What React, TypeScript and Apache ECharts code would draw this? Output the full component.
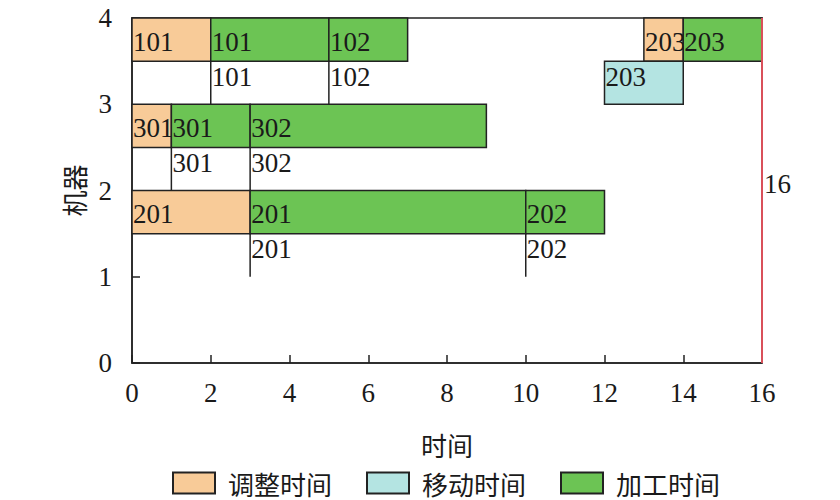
import React, { useEffect, useRef } from "react";
import * as echarts from "echarts";

// [machine, start, end, job]
const setupTasks: [number, number, number, string][] = [
  [4, 0, 2, "101"],
  [4, 13, 14, "203"],
  [3, 0, 1, "301"],
  [2, 0, 3, "201"],
];
const moveTasks: [number, number, number, string][] = [[4, 12, 14, "203"]];
const processTasks: [number, number, number, string][] = [
  [4, 2, 5, "101"],
  [4, 5, 7, "102"],
  [4, 14, 16, "203"],
  [3, 1, 3, "301"],
  [3, 3, 9, "302"],
  [2, 3, 10, "201"],
  [2, 10, 12, "202"],
];
// [machine, time, job]
const markers: [number, number, string][] = [
  [4, 2, "101"],
  [4, 5, "102"],
  [3, 1, "301"],
  [3, 3, "302"],
  [2, 3, "201"],
  [2, 10, "202"],
];
const makespan = 16;
const xTicks = [0, 2, 4, 6, 8, 10, 12, 14, 16];
const yTicks = [0, 1, 2, 3, 4];

const SERIF = "serif";
const CJK = "Noto Sans CJK SC";
const INK = "#1a1a1a";
const COLORS = { setup: "#F8CB98", move: "#B4E4E2", process: "#6CC454" };

function barSeries(name: string, tasks: [number, number, number, string][], color: string, lower: boolean) {
  return {
    type: "custom",
    name,
    clip: false,
    itemStyle: { color, borderColor: "#222", borderWidth: 1.5 },
    encode: { x: [1, 2], y: 0 },
    data: tasks.map((t) => [t[0], t[1], t[2]]),
    renderItem: (params: any, api: any) => {
      const t = tasks[params.dataIndex];
      const m = t[0];
      const yTop = lower ? m - 0.5 : m;
      const yBot = lower ? m - 1 : m - 0.5;
      const p1 = api.coord([t[1], yTop]);
      const p2 = api.coord([t[2], yBot]);
      return {
        type: "group",
        children: [
          {
            type: "rect",
            shape: { x: p1[0], y: p1[1], width: p2[0] - p1[0], height: p2[1] - p1[1] },
            style: { fill: color, stroke: "#222", lineWidth: 1.5 },
          },
          {
            type: "text",
            x: p1[0] + 1,
            y: lower ? p1[1] + 2 : (p1[1] + p2[1]) / 2 + 2,
            style: {
              text: t[3],
              fill: INK,
              fontSize: 27,
              fontFamily: SERIF,
              align: "left",
              verticalAlign: lower ? "top" : "middle",
            },
          },
        ],
      };
    },
  };
}

export default function App() {
  const ref = useRef<HTMLDivElement>(null);
  useEffect(() => {
    if (!ref.current) return;
    const chart = echarts.init(ref.current, null, { renderer: "svg" });
    chart.setOption({
      animation: false,
      backgroundColor: "#ffffff",
      textStyle: { fontFamily: SERIF },
      grid: { left: 132, right: 78, top: 18, bottom: 137, show: true, borderColor: "#222", borderWidth: 1.5, backgroundColor: "transparent" },
      legend: {
        left: 172,
        top: 470,
        padding: 0,
        itemWidth: 42,
        itemHeight: 21,
        itemGap: 34,
        icon: "rect",
        textStyle: { fontSize: 26, fontFamily: CJK, color: INK, padding: [0, 0, 0, 8] },
        data: ["调整时间", "移动时间", "加工时间"],
      },
      xAxis: {
        type: "value",
        min: xTicks[0],
        max: xTicks[xTicks.length - 1],
        interval: 2,
        name: "时间",
        nameLocation: "middle",
        nameGap: 68,
        nameTextStyle: { fontSize: 26, fontFamily: CJK, color: INK },
        axisLine: { show: true, lineStyle: { color: "#222", width: 1.5 } },
        axisTick: { show: true, inside: true, length: 8, lineStyle: { color: "#222", width: 1.5 } },
        axisLabel: { fontSize: 27, fontFamily: SERIF, color: INK, margin: 16 },
        splitLine: { show: false },
      },
      yAxis: {
        type: "value",
        min: yTicks[0],
        max: yTicks[yTicks.length - 1],
        interval: 1,
        name: "机器",
        nameLocation: "middle",
        nameGap: 46,
        nameRotate: 90,
        nameTextStyle: { fontSize: 26, fontFamily: CJK, color: INK },
        axisLine: { show: true, lineStyle: { color: "#222", width: 1.5 } },
        axisTick: { show: true, inside: true, length: 8, lineStyle: { color: "#222", width: 1.5 } },
        axisLabel: { fontSize: 27, fontFamily: SERIF, color: INK, margin: 20 },
        splitLine: { show: false },
      },
      series: [
        barSeries("调整时间", setupTasks, COLORS.setup, false),
        barSeries("移动时间", moveTasks, COLORS.move, true),
        barSeries("加工时间", processTasks, COLORS.process, false),
        {
          type: "custom",
          name: "markers",
          clip: false,
          encode: { x: 1, y: 0 },
          data: markers.map((d) => [d[0], d[1]]),
          renderItem: (params: any, api: any) => {
            const d = markers[params.dataIndex];
            const top = api.coord([d[1], d[0] - 0.5]);
            const bot = api.coord([d[1], d[0] - 1]);
            return {
              type: "group",
              children: [
                {
                  type: "line",
                  shape: { x1: top[0], y1: top[1], x2: bot[0], y2: bot[1] },
                  style: { stroke: "#222", lineWidth: 1.5 },
                },
                {
                  type: "text",
                  x: top[0] + 1,
                  y: top[1] + 2,
                  style: { text: d[2], fill: INK, fontSize: 27, fontFamily: SERIF, align: "left", verticalAlign: "top" },
                },
              ],
            };
          },
        },
        {
          type: "custom",
          name: "makespan",
          clip: false,
          encode: { x: 0, y: 1 },
          data: [[makespan, 2]],
          renderItem: (params: any, api: any) => {
            const top = api.coord([makespan, yTicks[yTicks.length - 1]]);
            const bot = api.coord([makespan, yTicks[0]]);
            const mid = api.coord([makespan, 2]);
            return {
              type: "group",
              children: [
                {
                  type: "line",
                  shape: { x1: top[0], y1: top[1], x2: bot[0], y2: bot[1] },
                  style: { stroke: "#D9505A", lineWidth: 2 },
                },
                {
                  type: "text",
                  x: mid[0] + 2,
                  y: mid[1] - 7,
                  style: { text: String(makespan), fill: INK, fontSize: 27, fontFamily: SERIF, align: "left", verticalAlign: "middle" },
                },
              ],
            };
          },
        },
      ],
    });
    return () => chart.dispose();
  }, []);
  return <div ref={ref} style={{ position: "absolute", left: 0, top: 0, width: 840, height: 500 }} />;
}
